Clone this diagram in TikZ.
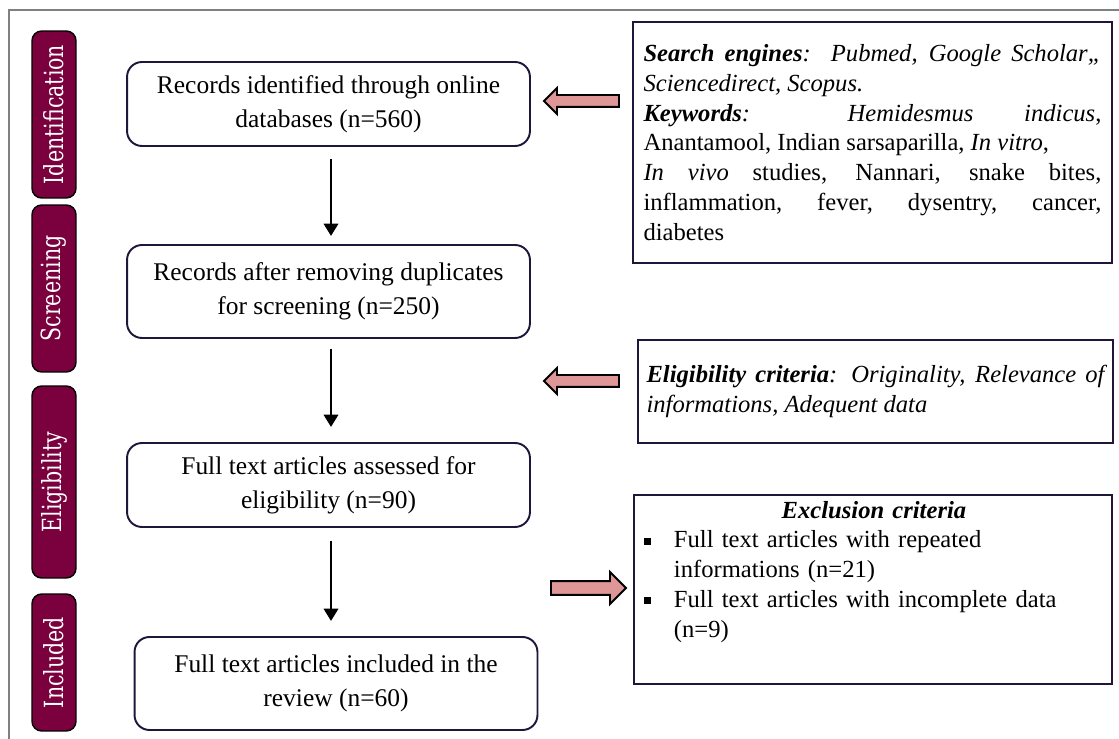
\documentclass[tikz,border=0pt]{standalone}
\usepackage{fontspec}
\setmainfont{Liberation Serif}
\newfontfamily\tabfont[FakeStretch=0.78]{DejaVu Serif}
\usetikzlibrary{arrows.meta,shapes.arrows}
\definecolor{wine}{RGB}{122, 0, 62}
\definecolor{blush}{RGB}{222, 150, 150}
\definecolor{navy}{RGB}{32, 22, 58}
\definecolor{framegray}{RGB}{128, 128, 128}
\newcommand{\sqbullet}{\makebox[0.6cm][l]{\rule[0.3ex]{0.28em}{0.28em}}}

\begin{document}
\begin{tikzpicture}[x=0.02cm, y=-0.02cm,
    stage/.style  = {draw=black, fill=wine, line width=0.8pt, rounded corners=5.5pt, rotate=90,
                     minimum height=0.88cm, inner sep=0pt, text=white, font=\tabfont\fontsize{15}{17}\selectfont},
    record/.style = {draw=navy, line width=1.1pt, rounded corners=8.5pt, minimum width=8.06cm, align=center,
                     font=\fontsize{14.5}{19.5}\selectfont},
    source/.style = {draw=navy, line width=1.6pt, inner sep=0pt, font=\fontsize{14}{17}\selectfont},
    flow/.style   = {-{Triangle[length=7pt,width=8pt]}, line width=1.7pt},
    block/.style  = {single arrow, draw=black, fill=blush, line width=1.1pt, inner xsep=0pt, inner ysep=0.1cm,
                     single arrow head extend=0.14cm, minimum height=1.5cm}]
    \useasboundingbox (0,0) rectangle (1119,739);
    \draw[framegray, line width=0.6pt] (9,739) -- (9,10) -- (1119,10);

    \node[stage, minimum width=3.34cm] (ident)  at (54,114.5) {Identification};
    \node[stage, minimum width=3.34cm] (screen) at (54,288.5) {Screening};
    \node[stage, minimum width=3.84cm] (elig)   at (54,482)   {Eligibility};
    \node[stage, minimum width=2.74cm] (incl)   at (54,662.5) {Included};

    \node[record, minimum height=1.68cm] (found)    at (328.5,104)   {Records identified through online\\databases (n=560)};
    \node[record, minimum height=1.86cm] (screened) at (328.5,291.5) {Records after removing duplicates\\for screening (n=250)};
    \node[record, minimum height=1.68cm] (assessed) at (328.5,485)   {Full text articles assessed for\\eligibility (n=90)};
    \node[record, minimum height=1.86cm] (included) at (336,683.5)   {Full text articles included in the\\review (n=60)};

    \draw[flow, shorten <=0.24cm, shorten >=0.16cm] ([xshift=0.05cm]found.south)    -- ([xshift=0.05cm]screened.north);
    \draw[flow, shorten <=0.2cm,  shorten >=0.3cm]  ([xshift=0.05cm]screened.south) -- ([xshift=0.05cm]assessed.north);
    \draw[flow, shorten <=0.26cm, shorten >=0.3cm]  ([xshift=0.05cm]assessed.south) -- ([xshift=0.05cm]assessed.south |- included.north);

    \node[source, minimum width=9.58cm, minimum height=4.82cm, text width=9.16cm, align=justify] (search) at (872.5,142.5)
        {{\bfseries\itshape Search engines}\textit{:\ \ Pubmed, Google Scholar,,}\linebreak
         \textit{Sciencedirect, Scopus.}\\
         {\bfseries\itshape Keywords}\textit{:} \textit{Hemidesmus} \textit{indicus},\linebreak
         Anantamool, Indian sarsaparilla, \textit{In vitro},\\
         \textit{In vivo} studies, Nannari, snake bites,\linebreak
         inflammation, fever, dysentry, cancer,\linebreak
         diabetes};
    \node[source, minimum width=9.5cm, minimum height=2.06cm, text width=9.16cm, align=justify] (criteria) at (875.5,391.5)
        {{\bfseries\itshape Eligibility criteria}\textit{: Originality, Relevance of\linebreak informations, Adequent data}};
    \node[source, minimum width=9.56cm, minimum height=3.78cm] (exclbox) at (873,589.5) {};
    \node[anchor=north west, inner sep=0pt, text width=9.2cm, align=left, font=\fontsize{14}{17}\selectfont] (excl)
        at ([xshift=0.22cm, yshift=-0.14cm]exclbox.north west)
        {\makebox[\linewidth][c]{\bfseries\itshape Exclusion criteria}\\
         \sqbullet Full text articles with repeated\\
         \hspace*{0.6cm}informations (n=21)\\
         \sqbullet Full text articles with incomplete data\\
         \hspace*{0.6cm}(n=9)};

    \node[block, shape border rotate=180] (toFound)    at (584.5,101) {};
    \node[block, shape border rotate=180] (toScreened) at (584.5,381) {};
    \node[block, inner ysep=0.12cm, single arrow head extend=0.18cm] (toExcl) at (585,588) {};
\end{tikzpicture}
\end{document}
